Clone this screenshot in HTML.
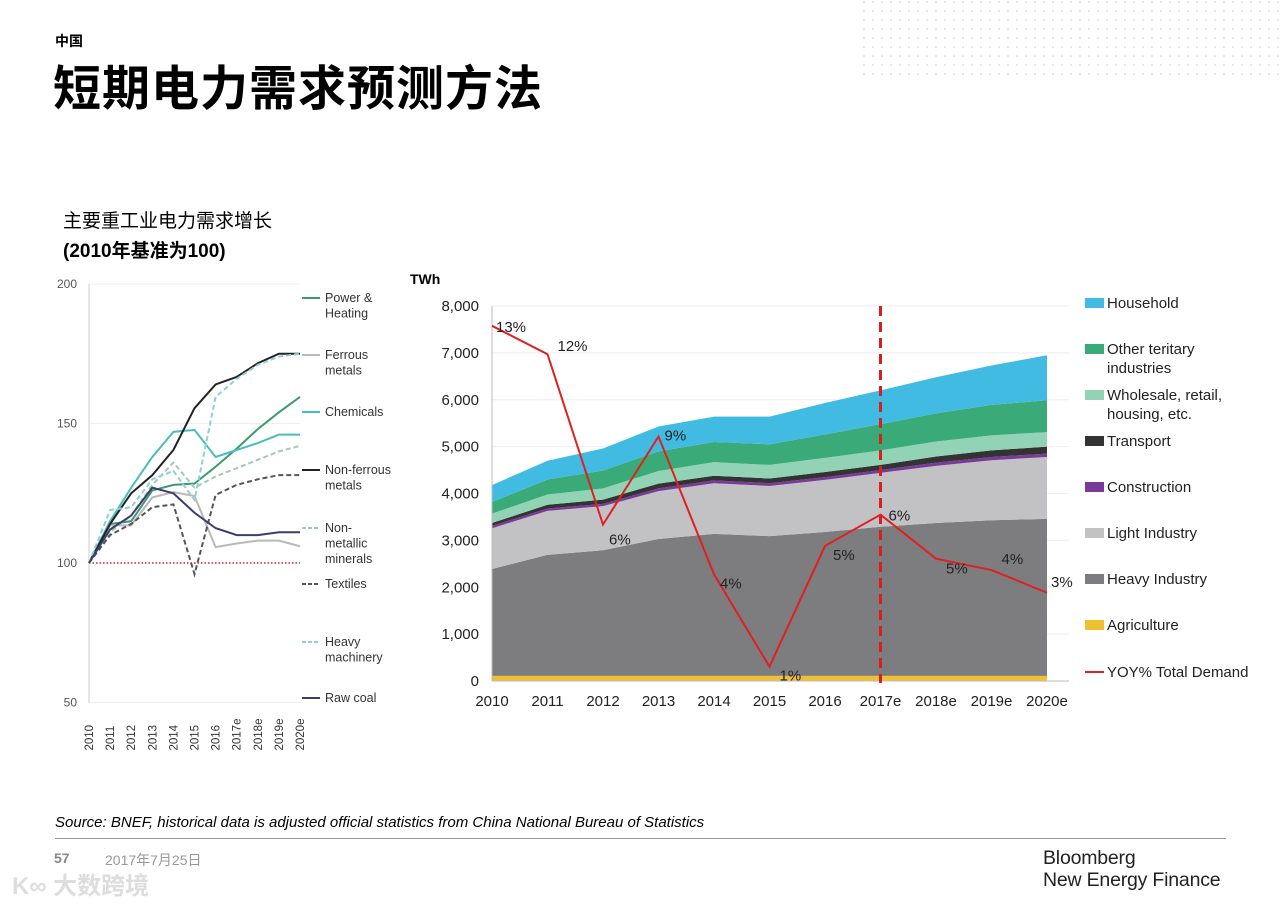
<!DOCTYPE html>
<html><head><meta charset="utf-8"><style>
body{margin:0;background:#fff;font-family:"Liberation Sans","Noto Sans CJK SC",sans-serif;}
#root{position:relative;width:1280px;height:904px;overflow:hidden;background:#fff;}
.abs{position:absolute;white-space:nowrap;}
</style></head><body>
<div id="root">
<div class="abs" style="left:55px;top:31px;font-size:14px;font-weight:bold;">中国</div>
<div class="abs" style="left:53px;top:49px;font-size:48px;font-weight:bold;letter-spacing:1px;">短期电力需求预测方法</div>
<svg class="abs" style="left:862px;top:0px" width="418" height="80">
<defs><pattern id="dp" width="9" height="9" patternUnits="userSpaceOnUse"><circle cx="2" cy="2" r="0.8" fill="#ccc"/></pattern></defs>
<rect x="0" y="0" width="418" height="78" fill="url(#dp)"/></svg>
<div class="abs" style="left:63px;top:206px;font-size:19px;">主要重工业电力需求增长</div>
<div class="abs" style="left:63px;top:236px;font-size:19px;font-weight:bold;">(2010年基准为100)</div>
<svg id="left" class="abs" style="left:0;top:270px" width="420" height="490"></svg>
<svg id="right" class="abs" style="left:400px;top:260px" width="880" height="460"></svg>
<div class="abs" style="left:55px;top:814px;font-size:15px;font-style:italic;">Source: BNEF, historical data is adjusted official statistics from China National Bureau of Statistics</div>
<div class="abs" style="left:55px;top:838px;width:1171px;height:1px;background:#999;"></div>
<div class="abs" style="left:54px;top:850px;font-size:14px;font-weight:bold;color:#888;">57</div>
<div class="abs" style="left:105px;top:850px;font-size:14px;color:#999;">2017年7月25日</div>
<div class="abs" style="left:12px;top:866px;font-size:24px;font-weight:bold;color:#ddd;">K∞ 大数跨境</div>
<div class="abs" style="left:1043px;top:847px;font-size:19.5px;line-height:22px;color:#222;letter-spacing:-0.2px;">Bloomberg<br>New Energy Finance</div>
</div>
<script>
const NS='http://www.w3.org/2000/svg';
function mk(p,t,a){const e=document.createElementNS(NS,t);for(const k in a)e.setAttribute(k,a[k]);p.appendChild(e);return e;}
// ---------- LEFT CHART ----------
const leftYears=['2010','2011','2012','2013','2014','2015','2016','2017e','2018e','2019e','2020e'];
const leftTicks=[50,100,150,200];
const powerHeating=[100,114,115,126,128,128.5,134.5,141,148,154,159.5];
const ferrousMetals=[100,113.5,113.5,123.5,125.4,124,105.7,107,108,108,106];
const chemicals=[100,115,127,138,147,147.7,138,140.5,143,146,146];
const nonFerrous=[100,114,125,131.5,140.5,155.5,164,166.7,171.6,175,175];
const nonMetallic=[100,111,117,128,136,127,131,134,137,140,142];
const textiles=[100,110,114,120,121,96,124.4,128,130,131.5,131.5];
const heavyMachinery=[100,119,120,130,133,122.6,159.5,166,171,174,175];
const rawCoal=[100,112,117,127,125,118,112.5,110,110,111,111];
const leftSeries=[
 ['Power &|Heating',powerHeating,'#3a9a73',false],
 ['Ferrous|metals',ferrousMetals,'#b9b9b9',false],
 ['Chemicals',chemicals,'#4bbcc0',false],
 ['Non-ferrous|metals',nonFerrous,'#222',false],
 ['Non-|metallic|minerals',nonMetallic,'#9fc9b8',true],
 ['Textiles',textiles,'#555',true],
 ['Heavy|machinery',heavyMachinery,'#8fd0d8',true],
 ['Raw coal',rawCoal,'#3c3c6e',false]];
const L=document.getElementById('left');
const lx=i=>89+i*21.1, ly=v=>293-(v-100)*2.79;
leftTicks.forEach(t=>{
 const g=mk(L,'line',{x1:89,x2:300,y1:ly(t),y2:ly(t),stroke:t==100?'none':'#eee'});
 
 const tx=mk(L,'text',{x:77,y:ly(t)+4,'font-size':12,'text-anchor':'end',fill:'#555'});tx.textContent=t;
 
});
mk(L,'line',{x1:89,x2:89,y1:ly(200),y2:ly(50),stroke:'#ccc'});
const base=mk(L,'line',{x1:89,x2:300,y1:ly(100),y2:ly(100),stroke:'#e02020','stroke-width':1.5,'stroke-dasharray':'1.5 2'});

leftYears.forEach((y,i)=>{const t=mk(L,'text',{transform:`translate(${lx(i)+4},${ly(50)+48}) rotate(-90)`,'font-size':11.5,fill:'#333'});t.textContent=y;
 });
const legY=[28,85,142,200,258,314,372,428];
leftSeries.forEach((s,k)=>{
 const p=mk(L,'polyline',{points:s[1].map((v,i)=>lx(i)+','+ly(v)).join(' '),fill:'none',stroke:s[2],'stroke-width':2,'stroke-dasharray':s[3]?'5 3':'none'});
 
 const sw=mk(L,'line',{x1:302,x2:320,y1:legY[k],y2:legY[k],stroke:s[2],'stroke-width':2,'stroke-dasharray':s[3]?'4 2':'none'});
 
 s[0].split('|').forEach((ln,j)=>{const t=mk(L,'text',{x:325,y:legY[k]+4+j*15.5,'font-size':12.5,fill:'#333'});t.textContent=ln;
  });
});
// ---------- RIGHT CHART ----------
const years=['2010','2011','2012','2013','2014','2015','2016','2017e','2018e','2019e','2020e'];
const yTicks=[0,1000,2000,3000,4000,5000,6000,7000,8000];
const agriculture=[110,110,110,110,110,110,110,110,110,110,110];
const heavyIndustry=[2280,2580,2680,2920,3030,2980,3070,3180,3260,3320,3350];
const lightIndustry=[870,940,940,1020,1080,1070,1110,1150,1220,1280,1320];
const construction=[50,50,50,60,60,60,60,60,70,70,70];
const transport=[60,80,90,100,100,100,110,110,130,140,150];
const wholesale=[200,220,240,270,290,290,300,310,320,320,310];
const otherTertiary=[250,320,380,420,430,440,500,560,600,650,680];
const household=[360,400,470,530,540,590,670,720,770,840,960];
const yoy=[13.0,12.0,6.0,9.1,4.25,1.0,5.25,6.35,4.8,4.4,3.6];
const yoyLabels=['13%','12%','6%','9%','4%','1%','5%','6%','5%','4%','3%'];
const R=document.getElementById('right');
const ox=400,oy=260;
const rx=i=>492-ox+i*55.5, ry=v=>681-oy-v*0.046875, rp=p=>695-oy-p*28.4;
yTicks.forEach(t=>{
 const g=mk(R,'line',{x1:rx(0),x2:rx(10)+22,y1:ry(t),y2:ry(t),stroke:'#eee'});
 
 const tx=mk(R,'text',{x:rx(0)-13,y:ry(t)+5,'font-size':15,'text-anchor':'end',fill:'#222'});tx.textContent=t.toLocaleString('en-US');
 
});
const unit=mk(R,'text',{x:10,y:24,'font-size':14,'font-weight':'bold'});unit.textContent='TWh';

const stackS=[['Agriculture',agriculture,'#f0c030'],['Heavy Industry',heavyIndustry,'#7d7d7f'],['Light Industry',lightIndustry,'#c2c2c4'],['Construction',construction,'#7a3a9a'],['Transport',transport,'#333'],['Wholesale, retail,|housing, etc.',wholesale,'#93d3b5'],['Other teritary|industries',otherTertiary,'#3aaa78'],['Household',household,'#42bbe3']];
let cum=years.map(()=>0);
stackS.forEach(s=>{
 const lo=cum.slice();cum=cum.map((c,i)=>c+s[1][i]);
 const pts=cum.map((v,i)=>rx(i)+','+ry(v)).concat(lo.map((v,i)=>rx(i)+','+ry(v)).reverse());
 const p=mk(R,'polygon',{points:pts.join(' '),fill:s[2]});
 
});
mk(R,'line',{x1:rx(0),x2:rx(10)+22,y1:ry(0),y2:ry(0),stroke:'#bbb'});
mk(R,'line',{x1:rx(0),x2:rx(0),y1:ry(0),y2:ry(8000),stroke:'#bbb'});
years.forEach((y,i)=>{const t=mk(R,'text',{x:rx(i),y:ry(0)+25,'font-size':15,'text-anchor':'middle',fill:'#222'});t.textContent=y;
 });
const fc=mk(R,'line',{x1:rx(7),x2:rx(7),y1:ry(8000),y2:ry(0)+2,stroke:'#d42020','stroke-width':3,'stroke-dasharray':'10 6'});

const yl=mk(R,'polyline',{points:yoy.map((v,i)=>rx(i)+','+rp(v)).join(' '),fill:'none',stroke:'#e02020','stroke-width':2});

const lo=[[4,6],[10,-3],[6,20],[6,4],[6,14],[10,14],[8,14],[8,6],[10,15],[10,-6],[4,-6]];
yoy.forEach((v,i)=>{const t=mk(R,'text',{x:rx(i)+lo[i][0],y:rp(v)+lo[i][1],'font-size':15,fill:'#222'});t.textContent=yoyLabels[i];
 });
const leg=[['Household','#42bbe3',43],['Other teritary|industries','#3aaa78',89],['Wholesale, retail,|housing, etc.','#93d3b5',135],['Transport','#333',181],['Construction','#7a3a9a',227],['Light Industry','#c2c2c4',273],['Heavy Industry','#7d7d7f',319],['Agriculture','#f0c030',365]];
leg.forEach(l=>{const r=mk(R,'rect',{x:685,y:l[2]-5,width:19,height:10,fill:l[1]});
 
 l[0].split('|').forEach((ln,j)=>{const t=mk(R,'text',{x:707,y:l[2]+5+j*19,'font-size':15,fill:'#222'});t.textContent=ln;
 });});
const yr=mk(R,'line',{x1:685,x2:704,y1:412,y2:412,stroke:'#e02020','stroke-width':2});

const yt=mk(R,'text',{x:707,y:417,'font-size':15,fill:'#222'});yt.textContent='YOY% Total Demand';

</script>
</body></html>
